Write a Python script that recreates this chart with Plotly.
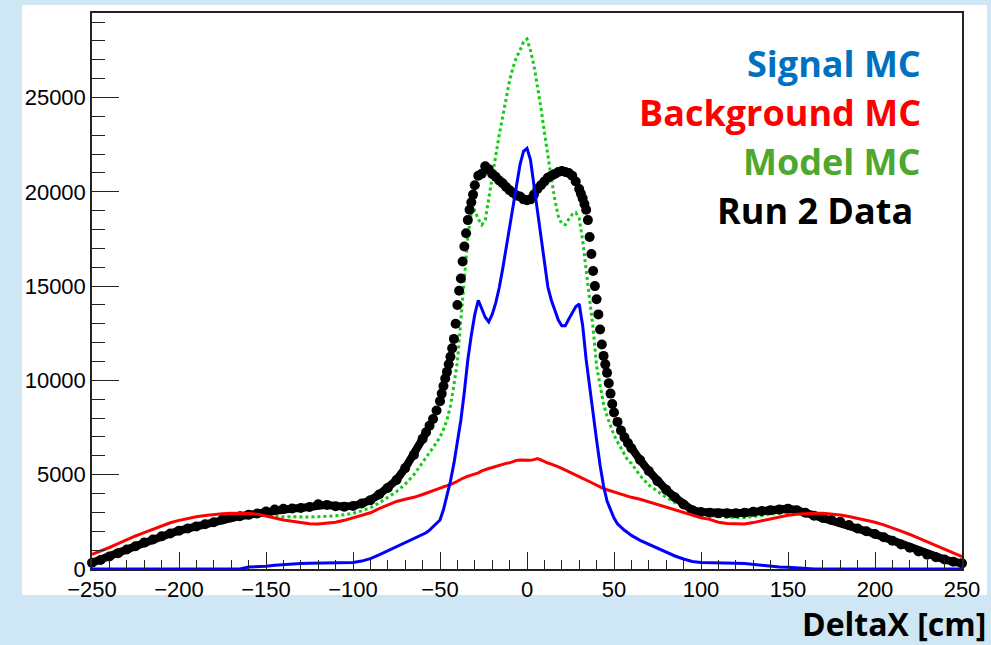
import plotly.graph_objects as go

# ---------------- data ----------------
# bin positions (cm) for the line histograms: 5 cm in the wings, 2 cm in the core
X_LINE = list(range(-250, -59, 5)) + list(range(-58, 59, 2)) + list(range(60, 251, 5))

background_mc = [
    780, 950, 1140, 1340, 1560, 1750, 1930, 2110, 2290, 2450,
    2580, 2690, 2770, 2840, 2890, 2930, 2950, 2950, 2940, 2910,
    2820, 2700, 2600, 2520, 2450, 2400, 2390, 2420, 2480, 2580,
    2700, 2820, 2980, 3200, 3380, 3580, 3700, 3800, 3950,
    4020, 4100, 4180, 4240, 4300, 4360, 4420, 4470, 4550, 4650,
    4760, 4860, 4920, 4980, 5030, 5100, 5200, 5280, 5330, 5380,
    5440, 5500, 5560, 5600, 5630, 5700, 5760, 5780, 5770,
    5790,
    5760, 5800, 5850, 5780, 5680, 5620, 5560, 5500, 5420, 5330,
    5250, 5170, 5090, 5000, 4900, 4810, 4720, 4620, 4520, 4430,
    4330, 4260, 4200, 4140, 4080, 4030, 3970, 3900, 3850,
    3800, 3700, 3560, 3420, 3280, 3140, 3000, 2840, 2720, 2630,
    2480, 2410, 2380, 2390, 2460, 2560, 2650, 2760, 2850, 2900,
    2940, 2950, 2950, 2920, 2860, 2780, 2680, 2590, 2480, 2340,
    2190, 2010, 1830, 1640, 1450, 1260, 1060, 860, 650,
]

signal_mc = [
    0, 0, 0, 0, 0, 0, 0, 0, 0, 0,
    0, 0, 0, 0, 0, 0, 0, 0, 100, 120,
    150, 200, 240, 270, 290, 300, 310, 320, 330, 340,
    350, 420, 550, 750, 970, 1190, 1390, 1610, 1810,
    1920, 2060, 2250, 2420, 2600, 3150, 3900, 4650, 5600, 6700,
    7900, 9400, 11100, 12400, 13500, 14250, 13800, 13350, 13100, 13500,
    14100, 14900, 15900, 17000, 18050, 19100, 20300, 21450, 22150,
    22300,
    21700, 20350, 18900, 17400, 16050, 14950, 14250, 13700, 13200, 12900,
    12900, 13250, 13600, 13900, 14050, 12900, 11100, 9600, 8200, 6830,
    5500, 4400, 3600, 3100, 2700, 2400, 2200, 2050, 1920,
    1780, 1520, 1310, 1090, 870, 690, 530, 400, 350, 330,
    310, 300, 300, 290, 240, 180, 130, 110, 90, 60,
    20, 0, 0, 0, 0, 0, 0, 0, 0, 0,
    0, 0, 0, 0, 0, 0, 0, 0, 0,
]

model_mc = [
    300, 440, 620, 800, 990, 1170, 1360, 1520, 1690, 1840,
    1990, 2110, 2220, 2340, 2460, 2640, 2800, 2950, 2960, 2900,
    2850, 2790, 2770, 2760, 2760, 2760, 2770, 2790, 2820, 2880,
    2950, 3080, 3250, 3500, 3800, 4100, 4500, 5000, 5650,
    5900, 6150, 6450, 6700, 7000, 7400, 7900, 8650, 9750, 11000,
    13200, 15300, 17600, 18900, 19000, 18550, 18250, 18500, 19700, 20800,
    21900, 23000, 24000, 25000, 25900, 26600, 27150, 27500, 27950,
    28100,
    27500, 26700, 25650, 24450, 23150, 21850, 20700, 19600, 18700, 18300,
    18250, 18550, 18800, 18900, 18600, 17400, 15900, 14550, 12750, 10750,
    9650, 8750, 8100, 7600, 7100, 6750, 6400, 6050, 5750,
    5600, 4950, 4450, 4100, 3800, 3520, 3280, 3080, 2900, 2830,
    2780, 2740, 2720, 2730, 2780, 2830, 2900, 2960, 3030, 3050,
    2920, 2780, 2650, 2550, 2450, 2280, 2100, 1950, 1810, 1630,
    1450, 1250, 1080, 880, 710, 570, 450, 340, 250,
]

# Run 2 data: finer binning on the steep edges
X_DATA = (list(range(-250, -59, 5)) + [-58, -56, -54, -52] + list(range(-50, -29))
          + list(range(-28, 29, 2)) + list(range(30, 51)) + [52, 54, 56, 58]
          + list(range(60, 251, 5)))

run2_data = [
    330, 480, 660, 840, 1030, 1210, 1400, 1560, 1730, 1880,
    2030, 2150, 2260, 2370, 2480, 2630, 2740, 2800, 2870, 2940,
    3050, 3150, 3190, 3210, 3230, 3290, 3430, 3400, 3330, 3300,
    3340, 3470, 3650, 3950, 4300, 4720, 5350, 6050, 6900,
    7250, 7600, 7950, 8400,
    8900, 9300, 9700, 10100, 10450, 10850, 11250, 11700, 12200, 13000,
    14000, 14750, 15400, 16300, 17100, 17800, 18500, 19050, 19450, 19850,
    20350,
    20850, 20960, 21350, 21200, 20950, 20800, 20600, 20450, 20250, 20080,
    19950, 19800, 19750, 19600, 19550, 19600, 19850, 20150, 20350, 20550,
    20750, 20850, 20950, 21050, 21100, 21050, 21000, 20850, 20550,
    20150, 19900, 19650, 19350, 19050, 18500, 17600, 16700, 15800, 15000,
    14300, 13500, 12700, 11900, 11300, 10850, 10400, 9850, 9300, 8750,
    8300,
    7800, 7350, 6980, 6680,
    6400, 5780, 5200, 4650, 4200, 3800, 3420, 3120, 3020, 2980,
    2950, 2950, 2950, 2980, 3030, 3080, 3120, 3150, 3200, 3120,
    2980, 2820, 2700, 2600, 2500, 2330, 2150, 2000, 1860, 1680,
    1500, 1300, 1130, 930, 760, 620, 500, 390, 300,
]

legend_labels = ["Signal MC", "Background MC", "Model MC", "Run 2 Data"]
legend_colors = ["#0070c0", "#ff0000", "#4ea72e", "#000000"]
x_title = "DeltaX [cm]"

# ---------------- figure ----------------
W, H = 991, 645
L, R, T, B = 92, 29, 13, 76
pw, ph = W - L - R, H - T - B


def px(xp):
    return (xp - L) / pw


def py(yp):
    return (H - B - yp) / ph


# thick band for the coarsely binned wings of the data (same values, drawn as a line)
band_y = [v if abs(x) >= 58 else None for x, v in zip(X_DATA, run2_data)]

fig = go.Figure()
fig.add_trace(go.Scatter(x=X_LINE, y=model_mc, mode="lines",
                         line=dict(color="#11cc11", width=3, dash="dot"), name="Model MC"))
fig.add_trace(go.Scatter(x=X_DATA, y=band_y, mode="lines", connectgaps=False,
                         line=dict(color="black", width=8), hoverinfo="skip",
                         cliponaxis=False, showlegend=False))
fig.add_trace(go.Scatter(x=X_DATA, y=run2_data, mode="markers",
                         marker=dict(color="black", size=10, symbol="circle"),
                         cliponaxis=False, name="Run 2 Data"))
fig.add_trace(go.Scatter(x=X_LINE, y=background_mc, mode="lines",
                         line=dict(color="#ff0000", width=3), name="Background MC"))
fig.add_trace(go.Scatter(x=X_LINE, y=signal_mc, mode="lines",
                         line=dict(color="#0000ff", width=3), name="Signal MC"))

tickfont = dict(family="Liberation Sans", size=22, color="black")
fig.update_xaxes(range=[-250, 250], tickmode="linear", tick0=-250, dtick=50,
                 ticks="inside", ticklen=17, tickwidth=1, tickcolor="#222",
                 showline=True, linecolor="#222", linewidth=1.5, mirror=True,
                 showgrid=False, zeroline=False, tickfont=tickfont,
                 minor=dict(dtick=10, ticklen=9, ticks="inside", tickcolor="#222",
                            tickwidth=1, showgrid=False))
fig.update_yaxes(range=[0, 29480], tickmode="linear", tick0=0, dtick=5000,
                 tickformat="d",
                 ticks="inside", ticklen=27, tickwidth=1, tickcolor="#222",
                 showline=True, linecolor="#222", linewidth=1.5, mirror=True,
                 showgrid=False, zeroline=False, tickfont=tickfont,
                 minor=dict(dtick=1000, ticklen=13, ticks="inside", tickcolor="#222",
                            tickwidth=1, showgrid=False))

# white canvas behind the plot
fig.add_shape(type="rect", xref="paper", yref="paper",
              x0=px(22), x1=px(987), y0=py(595), y1=py(5),
              fillcolor="white", line=dict(width=0), layer="below")

ann_pos = [(923, 63), (923, 112), (923, 161), (915, 210)]
for lab, col, (ax_, ay_) in zip(legend_labels, legend_colors, ann_pos):
    fig.add_annotation(x=px(ax_), y=py(ay_), xref="paper", yref="paper",
                       text=f"<b>{lab}</b>", showarrow=False,
                       xanchor="right", yanchor="middle",
                       font=dict(family="Open Sans", size=36, color=col))

fig.add_annotation(x=px(988), y=py(623), xref="paper", yref="paper",
                   text=f"<b>{x_title}</b>", showarrow=False,
                   xanchor="right", yanchor="middle",
                   font=dict(family="Open Sans", size=32, color="black"))

fig.update_layout(width=W, height=H, margin=dict(l=L, r=R, t=T, b=B, pad=0),
                  paper_bgcolor="#cfe7f5", plot_bgcolor="white",
                  showlegend=False)

fig.write_html("out.html", config={"displayModeBar": False},
               post_script="document.body.style.margin='0';document.body.style.overflow='hidden';")
